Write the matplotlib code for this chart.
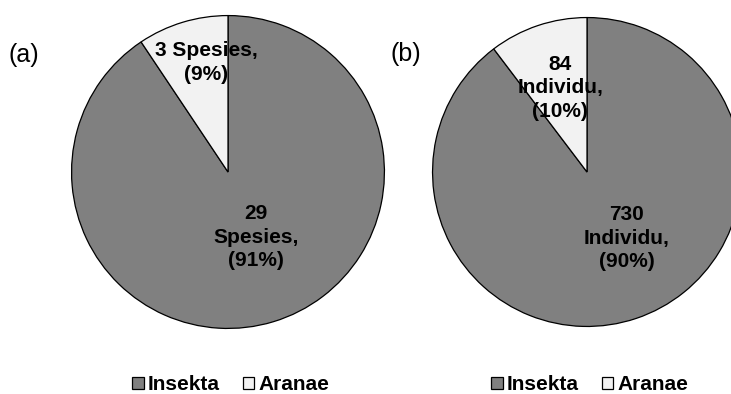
import matplotlib.pyplot as plt

plt.rcParams['font.family'] = ['Liberation Sans', 'DejaVu Sans']

# Composition of arthropods: (a) species count, (b) individual count
groups = ['Insekta', 'Aranae']
species = [29, 3]
individuals = [730, 84]
species_labels = ['29\nSpesies,\n(91%)', '3 Spesies,\n(9%)']
indiv_labels = ['730\nIndividu,\n(90%)', '84\nIndividu,\n(10%)']
colors = ['#808080', '#f2f2f2']

fig = plt.figure(figsize=(7.31, 3.94), dpi=100)
W, H = 731, 394

def add_pie(cx, cy, r, values, labels, label_pos, tag, tag_xy, legend_x):
    ax = fig.add_axes([(cx - r) / W, (H - cy - r) / H, 2 * r / W, 2 * r / H])
    wedges, _ = ax.pie(values, colors=colors, startangle=90, counterclock=False,
                       radius=1, wedgeprops=dict(edgecolor='black', linewidth=0.9))
    ax.set_xlim(-1.01, 1.01)
    ax.set_ylim(-1.01, 1.01)
    ax.axis('off')
    for lab, (x, y) in zip(labels, label_pos):
        ax.text(x, y, lab, ha='center', va='center', fontsize=15,
                fontweight='bold', linespacing=1.3)
    fig.text(tag_xy[0] / W, 1 - tag_xy[1] / H, tag, fontsize=18,
             ha='left', va='center')
    fig.legend(wedges, groups, loc='center', ncol=2,
               bbox_to_anchor=(legend_x / W, 1 - 385 / H), frameon=False,
               prop=dict(weight='bold', size=15), handlelength=0.55,
               handleheight=0.55, handletextpad=0.2, columnspacing=1.1)
    return ax

add_pie(228, 172, 158, species, species_labels,
        [(0.177, -0.418), (-0.139, 0.70)], '(a)', (8, 55), 231)
add_pie(587, 172, 156, individuals, indiv_labels,
        [(0.256, -0.43), (-0.173, 0.545)], '(b)', (391, 54), 590)

fig.savefig('out.png', dpi=100)
